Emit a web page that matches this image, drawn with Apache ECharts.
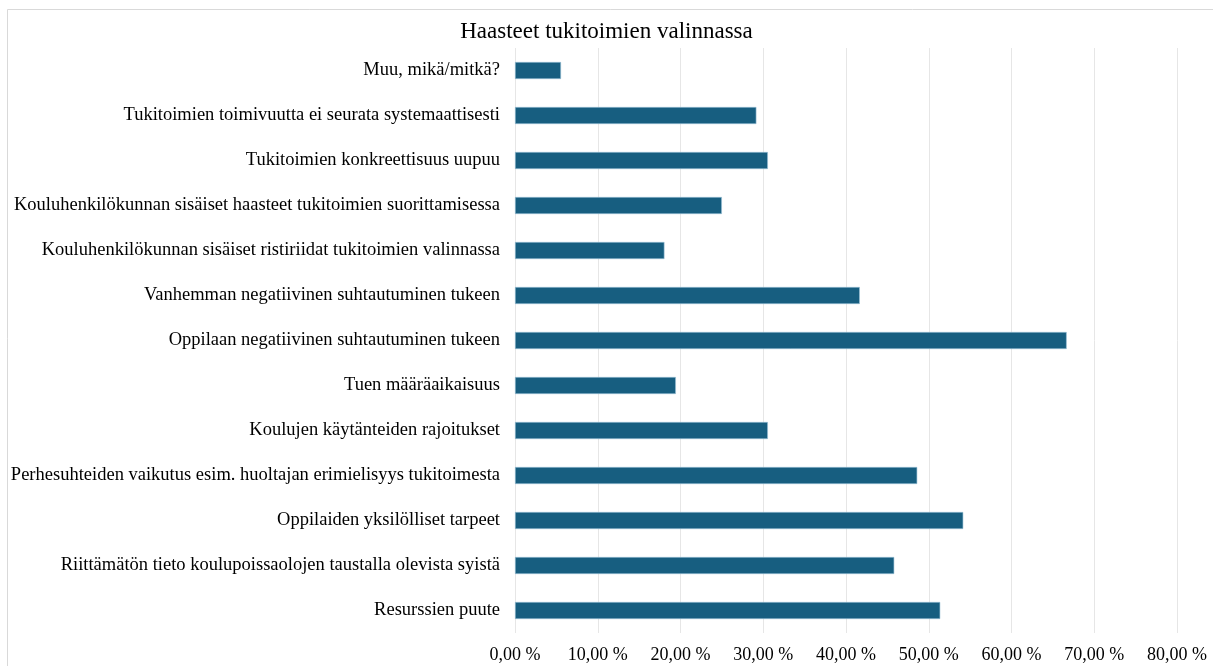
<!DOCTYPE html>
<html><head><meta charset="utf-8">
<script src="https://cdn.jsdelivr.net/npm/echarts@6/dist/echarts.min.js"></script>
<style>html,body{margin:0;padding:0;background:#fff}#c{width:1213px;height:666px}</style>
</head><body><div id="c"></div>
<script>
const title = 'Haasteet tukitoimien valinnassa';
const categories = [
  'Resurssien puute',
  'Riittämätön tieto koulupoissaolojen taustalla olevista syistä',
  'Oppilaiden yksilölliset tarpeet',
  'Perhesuhteiden vaikutus esim. huoltajan erimielisyys tukitoimesta',
  'Koulujen käytänteiden rajoitukset',
  'Tuen määräaikaisuus',
  'Oppilaan negatiivinen suhtautuminen tukeen',
  'Vanhemman negatiivinen suhtautuminen tukeen',
  'Kouluhenkilökunnan sisäiset ristiriidat tukitoimien valinnassa',
  'Kouluhenkilökunnan sisäiset haasteet tukitoimien suorittamisessa',
  'Tukitoimien konkreettisuus uupuu',
  'Tukitoimien toimivuutta ei seurata systemaattisesti',
  'Muu, mikä/mitkä?'
];
const values = [51.39, 45.83, 54.17, 48.61, 30.56, 19.44, 66.67, 41.67, 18.06, 25.00, 30.56, 29.17, 5.56];
const axisMin = 0, axisMax = 80, axisStep = 10;

const serif = '"Liberation Serif", "DejaVu Serif", serif';
const chart = echarts.init(document.getElementById('c'));
chart.setOption({
  animation: false,
  backgroundColor: '#fff',
  graphic: [{
    type: 'rect', silent: true,
    shape: { x: 7.5, y: 9.5, width: 1300, height: 700 },
    style: { fill: 'none', stroke: '#d9d9d9', lineWidth: 1 }
  }],
  title: {
    text: title, left: 'center', top: 15,
    textStyle: { fontFamily: serif, fontSize: 23, fontWeight: 'normal', color: '#000' }
  },
  grid: { left: 515, right: 36, top: 48, bottom: 33, containLabel: false },
  xAxis: {
    type: 'value', min: axisMin, max: axisMax, interval: axisStep,
    axisLine: { show: false }, axisTick: { show: false },
    splitLine: { show: true, lineStyle: { color: '#e6e6e6', width: 1 } },
    axisLabel: {
      margin: 13, color: '#000', fontFamily: serif, fontSize: 18,
      formatter: v => v.toFixed(2).replace('.', ',') + ' %'
    }
  },
  yAxis: {
    type: 'category', data: categories,
    axisLine: { show: false }, axisTick: { show: false },
    axisLabel: { margin: 15, color: '#000', fontFamily: serif, fontSize: 18.5 }
  },
  series: [{
    type: 'bar', data: values, barWidth: 17,
    itemStyle: { color: '#175e80', borderColor: '#9cc3d6', borderWidth: 0.6 }
  }]
});
</script></body></html>
